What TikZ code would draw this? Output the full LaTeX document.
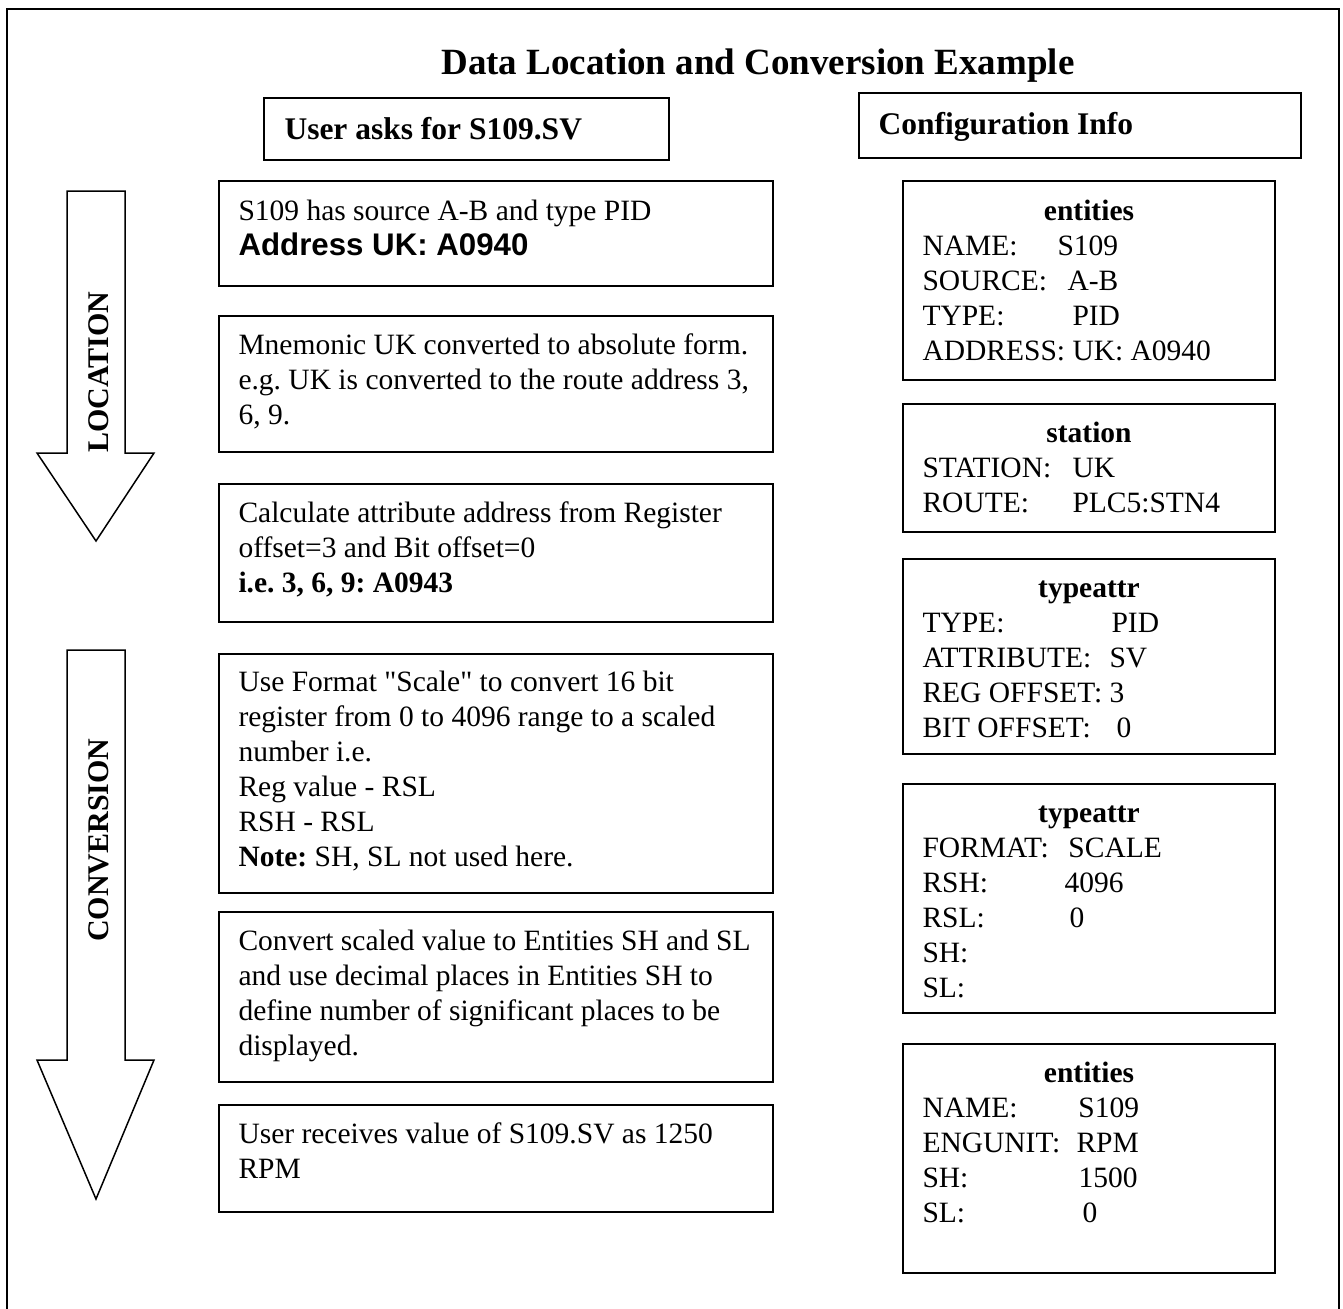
\documentclass[tikz,border=0pt]{standalone}
\usepackage{fontspec}
\setmainfont{Liberation Serif}
\newfontfamily\arialfont{Liberation Sans}
\usepackage{tikz}
\usepackage{xcolor}
\frenchspacing

\newcommand{\cfgrow}[3]{\makebox[#2pt][l]{#1}#3}
\newcommand{\textlines}[1]{\parbox[t]{240pt}{\raggedright #1}}

\begin{document}
\begin{tikzpicture}[x=0.4pt, y=-0.4pt,
    every node/.style = {inner sep=0pt, font=\fontsize{11.8}{14}\selectfont},
    stepbox/.style = {draw, line width=0.8pt, anchor=north west,
      minimum width=221.6pt},
    cfgbox/.style = {draw, line width=0.8pt, anchor=north west,
      minimum width=148.8pt},
    headbox/.style = {draw, line width=0.8pt, anchor=north west,
      minimum height=24.8pt},
    steptext/.style = {anchor=base west},
    cfghead/.style = {anchor=base, font=\fontsize{11.8}{14}\selectfont\bfseries},
    flowarrow/.style = {draw, line width=0.6pt, fill=white},
    flowlabel/.style = {rotate=90, font=\fontsize{12}{14}\selectfont\bfseries}]

  \clip (0,0) rectangle (1343,1308);
  \draw[line width=0.8pt] (7,9) rectangle (1339,1340);

  \node[font=\fontsize{14.8}{17}\selectfont\bfseries] (title) at (758,66)
    {Data Location and Conversion Example};

  % headings
  \node[headbox, minimum width=162pt] (ask) at (263,97) {};
  \node[anchor=base west, font=\fontsize{12.6}{15}\selectfont\bfseries] (askt)
    at ([shift={(21,42)}]ask.north west) {User asks for S109.SV};
  \node[headbox, minimum width=176.8pt, minimum height=26pt] (cfg) at (858,92) {};
  \node[anchor=base west, font=\fontsize{12.6}{15}\selectfont\bfseries] (cfgt)
    at ([shift={(20,42)}]cfg.north west) {Configuration Info};

  % big arrows
  \draw[flowarrow] (67,191) -- (125,191) -- (125,453) -- (154,453)
    -- (96,541) -- (37,453) -- (67,453) -- cycle;
  \draw[flowarrow] (67,650) -- (125,650) -- (125,1060) -- (154,1060)
    -- (96,1199) -- (37,1060) -- (67,1060) -- cycle;
  \node[flowlabel] (loc) at (99,372) {LOCATION};
  \node[flowlabel] (conv) at (99,840) {CONVERSION};

  % steps
  \node[stepbox, minimum height=42pt] (s1) at (218,180) {};
  \node[steptext] (s1t) at ([shift={(20,40)}]s1.north west)
    {\textlines{S109 has source A-B and type PID\\
     {\arialfont\bfseries\fontsize{12.5}{14}\selectfont Address UK: A0940}}};

  \node[stepbox, minimum height=54.4pt] (s2) at (218,315) {};
  \node[steptext] (s2t) at ([shift={(20,39)}]s2.north west)
    {\textlines{Mnemonic UK converted to absolute form.\\
     e.g. UK is converted to the route address 3,\\
     6, 9.}};

  \node[stepbox, minimum height=55.2pt] (s3) at (218,483) {};
  \node[steptext] (s3t) at ([shift={(20,39)}]s3.north west)
    {\textlines{Calculate attribute address from Register\\
     offset=3 and Bit offset=0\\
     \textbf{i.e. 3, 6, 9: A0943}}};

  \node[stepbox, minimum height=95.6pt] (s4) at (218,653) {};
  \node[steptext] (s4t) at ([shift={(20,38)}]s4.north west)
    {\textlines{Use Format \textquotedbl Scale\textquotedbl{} to convert 16 bit\\
     register from 0 to 4096 range to a scaled\\
     number i.e.\\
     Reg value - RSL\\
     RSH - RSL\\
     \textbf{Note:} SH, SL not used here.}};

  \node[stepbox, minimum height=68pt] (s5) at (218,911) {};
  \node[steptext] (s5t) at ([shift={(20,39)}]s5.north west)
    {\textlines{Convert scaled value to Entities SH and SL\\
     and use decimal places in Entities SH to\\
     define number of significant places to be\\
     displayed.}};

  \node[stepbox, minimum height=42.8pt] (s6) at (218,1104) {};
  \node[steptext] (s6t) at ([shift={(20,39)}]s6.north west)
    {\textlines{User receives value of S109.SV as 1250\\
     RPM}};

  % configuration tables
  \node[cfgbox, minimum height=79.6pt] (c1) at (902,180) {};
  \node[cfghead] (c1h) at ([yshift=-40*0.4pt]c1.north) {entities};
  \node[steptext] (c1t) at ([shift={(20,75)}]c1.north west)
    {\textlines{\cfgrow{NAME:}{54}{S109}\\
     \cfgrow{SOURCE:}{58}{A-B}\\
     \cfgrow{TYPE:}{60}{PID}\\
     ADDRESS: UK: A0940}};

  \node[cfgbox, minimum height=51.2pt] (c2) at (902,403) {};
  \node[cfghead] (c2h) at ([yshift=-39*0.4pt]c2.north) {station};
  \node[steptext] (c2t) at ([shift={(20,74)}]c2.north west)
    {\textlines{\cfgrow{STATION:}{60}{UK}\\
     \cfgrow{ROUTE:}{60}{PLC5:STN4}}};

  \node[cfgbox, minimum height=78pt] (c3) at (902,558) {};
  \node[cfghead] (c3h) at ([yshift=-39*0.4pt]c3.north) {typeattr};
  \node[steptext] (c3t) at ([shift={(20,74)}]c3.north west)
    {\textlines{\cfgrow{TYPE:}{75.6}{PID}\\
     \cfgrow{ATTRIBUTE:}{74.8}{SV}\\
     REG OFFSET: 3\\
     \cfgrow{BIT OFFSET:}{77.6}{0}}};

  \node[cfgbox, minimum height=91.6pt] (c4) at (902,783) {};
  \node[cfghead] (c4h) at ([yshift=-39*0.4pt]c4.north) {typeattr};
  \node[steptext] (c4t) at ([shift={(20,74)}]c4.north west)
    {\textlines{\cfgrow{FORMAT:}{58.4}{SCALE}\\
     \cfgrow{RSH:}{56.8}{4096}\\
     \cfgrow{RSL:}{58.8}{0}\\
     SH:\\
     SL:}};

  \node[cfgbox, minimum height=91.6pt] (c5) at (902,1043) {};
  \node[cfghead] (c5h) at ([yshift=-39*0.4pt]c5.north) {entities};
  \node[steptext] (c5t) at ([shift={(20,74)}]c5.north west)
    {\textlines{\cfgrow{NAME:}{62.4}{S109}\\
     \cfgrow{ENGUNIT:}{61.6}{RPM}\\
     \cfgrow{SH:}{62.4}{1500}\\
     \cfgrow{SL:}{64}{0}}};
\end{tikzpicture}
\end{document}
